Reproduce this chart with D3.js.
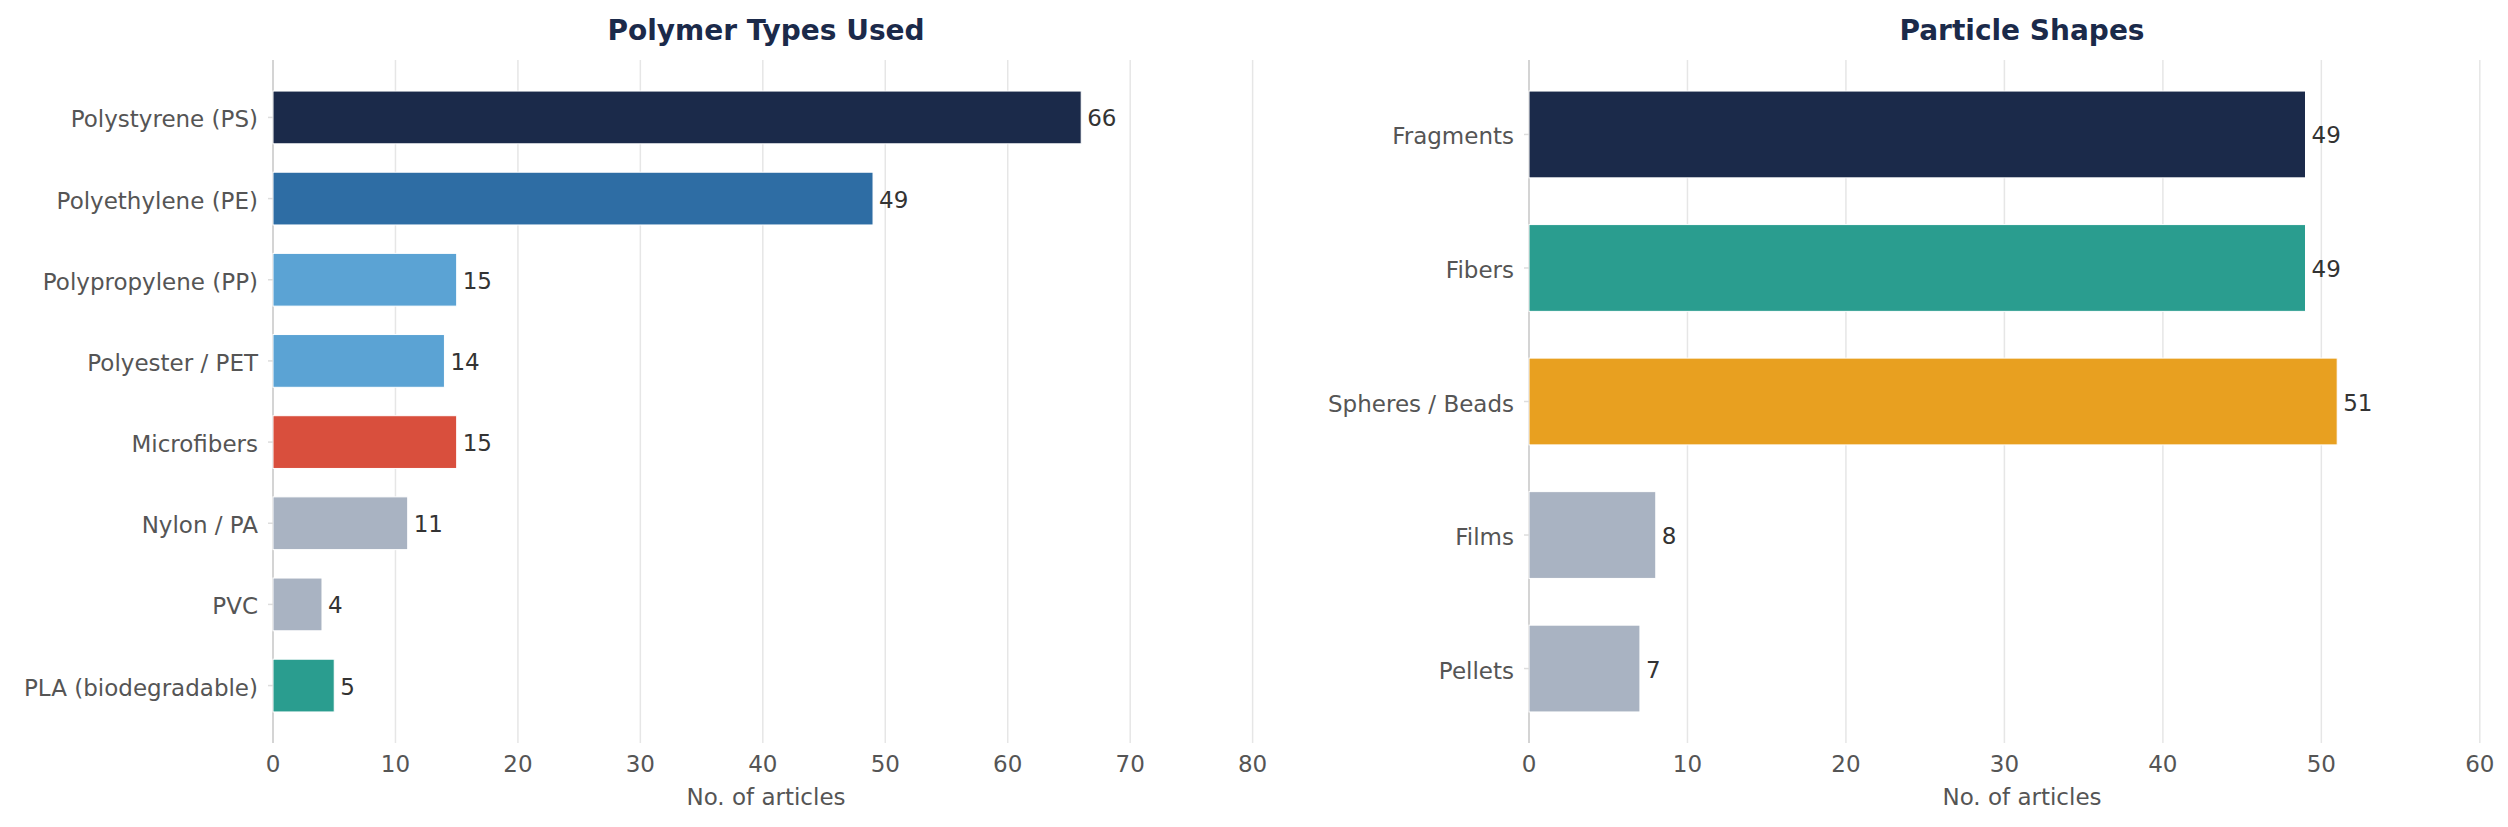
<!DOCTYPE html>
<html>
<head>
<meta charset="utf-8">
<script src="https://cdn.jsdelivr.net/npm/d3@7"></script>
<style>
  body { margin: 0; background: #fff; }
  svg text { font-family: "DejaVu Sans", sans-serif; }
</style>
</head>
<body>
<div id="chart"></div>
<script>
const width = 2508;
const height = 827;

// left panel: polymer types
const polymerTypes = ['Polystyrene (PS)', 'Polyethylene (PE)', 'Polypropylene (PP)', 'Polyester / PET', 'Microfibers', 'Nylon / PA', 'PVC', 'PLA (biodegradable)'];
const polymerCounts = [66, 49, 15, 14, 15, 11, 4, 5];
const polymerColors = ['#1b2a4a', '#2e6da4', '#5ba3d4', '#5ba3d4', '#d94f3d', '#a9b3c2', '#a9b3c2', '#2a9d8f'];
const polymerTicks = [0, 10, 20, 30, 40, 50, 60, 70, 80];

// right panel: particle shapes
const shapeTypes = ['Fragments', 'Fibers', 'Spheres / Beads', 'Films', 'Pellets'];
const shapeCounts = [49, 49, 51, 8, 7];
const shapeColors = ['#1b2a4a', '#2a9d8f', '#e8a020', '#a9b3c2', '#a9b3c2'];
const shapeTicks = [0, 10, 20, 30, 40, 50, 60];

const svg = d3.select('#chart')
    .append('svg')
    .attr('width', width)
    .attr('height', height);

const plotTop = 60;
const plotBottom = 743;
const barHeight = 0.65;

function drawPanel(opts) {
    const n = opts.categories.length;
    const pad = (n - 1 + barHeight) * 0.05 + barHeight / 2;

    const x = d3.scaleLinear()
        .domain([0, d3.max(opts.values) * 1.22])
        .range([opts.left, opts.left + 986]);

    const y = d3.scaleLinear()
        .domain([-pad, n - 1 + pad])
        .range([plotTop, plotBottom]);

    const g = svg.append('g');

    // vertical grid
    g.append('g')
        .selectAll('line')
        .data(opts.ticks)
        .enter()
        .append('line')
        .attr('x1', d => x(d))
        .attr('x2', d => x(d))
        .attr('y1', plotTop)
        .attr('y2', plotBottom)
        .attr('stroke', '#e6e6e6')
        .attr('stroke-width', 1.5);

    // left spine
    g.append('line')
        .attr('x1', x(0))
        .attr('x2', x(0))
        .attr('y1', plotTop)
        .attr('y2', plotBottom)
        .attr('stroke', '#cccccc')
        .attr('stroke-width', 1.5);

    // bars
    g.append('g')
        .selectAll('rect')
        .data(opts.values)
        .enter()
        .append('rect')
        .attr('x', x(0))
        .attr('y', (d, i) => y(i - barHeight / 2))
        .attr('width', d => x(d) - x(0))
        .attr('height', y(barHeight) - y(0))
        .attr('fill', (d, i) => opts.colors[i])
        .attr('stroke', '#ffffff')
        .attr('stroke-width', 1);

    // value labels
    g.append('g')
        .selectAll('text')
        .data(opts.values)
        .enter()
        .append('text')
        .attr('x', d => x(d) + 6)
        .attr('y', (d, i) => y(i) + 1)
        .attr('dominant-baseline', 'central')
        .attr('font-size', 23)
        .attr('fill', '#333333')
        .text(d => d);

    // y tick marks + labels
    const yTicks = g.append('g')
        .selectAll('g')
        .data(opts.categories)
        .enter()
        .append('g');
    yTicks.append('line')
        .attr('x1', x(0) - 5)
        .attr('x2', x(0))
        .attr('y1', (d, i) => y(i))
        .attr('y2', (d, i) => y(i))
        .attr('stroke', '#dddddd')
        .attr('stroke-width', 1.5);
    yTicks.append('text')
        .attr('x', x(0) - 15)
        .attr('y', (d, i) => y(i) + 2)
        .attr('text-anchor', 'end')
        .attr('dominant-baseline', 'central')
        .attr('font-size', 23)
        .attr('fill', '#555555')
        .text(d => d);

    // x tick labels
    g.append('g')
        .selectAll('text')
        .data(opts.ticks)
        .enter()
        .append('text')
        .attr('x', d => x(d))
        .attr('y', plotBottom + 21)
        .attr('text-anchor', 'middle')
        .attr('dominant-baseline', 'central')
        .attr('font-size', 23)
        .attr('fill', '#555555')
        .text(d => d);

    const mid = (x.range()[0] + x.range()[1]) / 2;

    // axis label
    g.append('text')
        .attr('x', mid)
        .attr('y', 797)
        .attr('text-anchor', 'middle')
        .attr('dominant-baseline', 'central')
        .attr('font-size', 23)
        .attr('fill', '#555555')
        .text('No. of articles');

    // title
    g.append('text')
        .attr('x', mid)
        .attr('y', 30)
        .attr('text-anchor', 'middle')
        .attr('dominant-baseline', 'central')
        .attr('font-size', 28)
        .attr('font-weight', 'bold')
        .attr('fill', '#1b2a4a')
        .text(opts.title);
}

drawPanel({
    title: 'Polymer Types Used',
    categories: polymerTypes,
    values: polymerCounts,
    colors: polymerColors,
    ticks: polymerTicks,
    left: 273
});

drawPanel({
    title: 'Particle Shapes',
    categories: shapeTypes,
    values: shapeCounts,
    colors: shapeColors,
    ticks: shapeTicks,
    left: 1529
});
</script>
</body>
</html>
